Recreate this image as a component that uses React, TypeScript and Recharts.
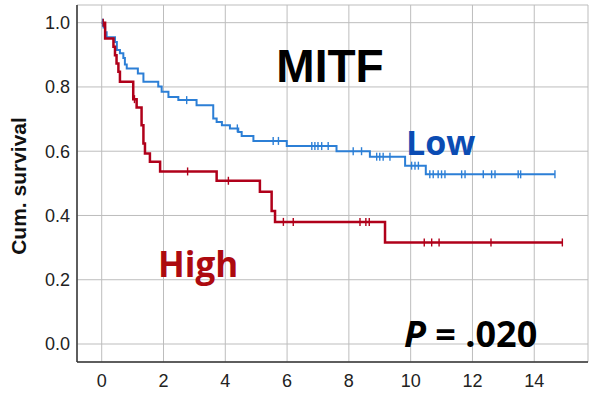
import React from 'react';
import { LineChart, Line, XAxis, YAxis, CartesianGrid } from 'recharts';

// Kaplan-Meier step events (time in years, cumulative survival after the event)
const highEventT = [0, 0.11, 0.38, 0.43, 0.48, 0.54, 0.59, 1.02, 1.13, 1.29, 1.35, 1.4, 1.56, 1.89, 3.72, 5.12, 5.5, 5.61, 9.17];
const highEventS = [1.0, 0.951, 0.925, 0.899, 0.873, 0.847, 0.816, 0.762, 0.736, 0.681, 0.624, 0.593, 0.567, 0.537, 0.508, 0.474, 0.414, 0.38, 0.316];
const highCensorT = [0.05, 1.06, 2.78, 4.1, 5.88, 6.2, 8.36, 8.55, 8.66, 10.44, 10.68, 10.92, 12.6, 14.91];

const lowEventT = [0, 0.06, 0.11, 0.16, 0.43, 0.49, 0.59, 0.7, 0.75, 0.81, 1.17, 1.35, 1.83, 1.94, 2.16, 2.48, 3.07, 3.61, 3.72, 3.89, 4.15, 4.42, 4.53, 4.91, 5.99, 7.6, 8.68, 9.82, 10.49];
const lowEventS = [1.0, 0.985, 0.97, 0.955, 0.94, 0.915, 0.905, 0.89, 0.87, 0.857, 0.842, 0.816, 0.801, 0.785, 0.769, 0.759, 0.743, 0.702, 0.691, 0.681, 0.671, 0.66, 0.647, 0.632, 0.616, 0.6, 0.583, 0.555, 0.528];
const lowCensorT = [0.03, 2.75, 4.39, 5.55, 5.72, 6.8, 6.9, 7.0, 7.12, 7.33, 8.14, 8.41, 8.9, 9.0, 9.11, 9.33, 10.03, 10.14, 10.25, 10.62, 10.73, 10.89, 11.0, 11.11, 11.65, 11.76, 12.35, 12.62, 12.73, 13.48, 13.56, 14.67];

const xTicks = [0, 2, 4, 6, 8, 10, 12, 14];
const yTicks = [0, 0.2, 0.4, 0.6, 0.8, 1.0];

type Pt = { t: number; s: number; c: boolean };

function buildKM(eventT: number[], eventS: number[], censorT: number[]): Pt[] {
  const pts: Pt[] = eventT.map((t, i) => ({ t, s: eventS[i], c: false }));
  censorT.forEach((t) => {
    let s = eventS[0];
    eventT.forEach((et, i) => {
      if (et <= t) s = eventS[i];
    });
    pts.push({ t, s, c: true });
  });
  pts.sort((a, b) => a.t - b.t);
  return pts;
}

const highData = buildKM(highEventT, highEventS, highCensorT);
const lowData = buildKM(lowEventT, lowEventS, lowCensorT);

const RED = '#b0001a';
const BLUE = '#2c7fd6';

const censorDot = (color: string) => (props: any) => {
  const { cx, cy, payload, index } = props;
  if (!payload || !payload.c || cx == null || cy == null) return <g key={`d${index}`} />;
  return <line key={`d${index}`} x1={cx} x2={cx} y1={cy - 4} y2={cy + 4} stroke={color} strokeWidth={1.4} />;
};

export default function App() {
  const font = 'Liberation Sans, Arial, sans-serif';
  return (
    <div style={{ position: 'absolute', left: 0, top: 0, width: 589, height: 396, background: '#fff' }}>
      <LineChart width={589} height={396} margin={{ top: 5, right: 1, left: 0, bottom: 0 }}>
        <CartesianGrid stroke="#bdbdbd" strokeWidth={1} />
        <XAxis
          type="number"
          dataKey="t"
          domain={[-0.8, 15.74]}
          ticks={xTicks}
          allowDataOverflow
          height={34}
          tickLine={false}
          tickSize={0}
          tickMargin={12}
          axisLine={{ stroke: '#333', strokeWidth: 1.5 }}
          tick={{ fill: '#222', fontSize: 18, fontFamily: font }}
        />
        <YAxis
          type="number"
          dataKey="s"
          domain={[-0.056, 1.055]}
          ticks={yTicks}
          allowDataOverflow
          width={77}
          tickLine={false}
          tickSize={0}
          tickMargin={7}
          axisLine={{ stroke: '#333', strokeWidth: 1.5 }}
          tickFormatter={(v: number) => v.toFixed(1)}
          tick={{ fill: '#222', fontSize: 18, fontFamily: font }}
        />
        <Line
          data={lowData}
          dataKey="s"
          type="stepAfter"
          stroke={BLUE}
          strokeWidth={2}
          dot={censorDot(BLUE)}
          activeDot={false}
          isAnimationActive={false}
        />
        <Line
          data={highData}
          dataKey="s"
          type="stepAfter"
          stroke={RED}
          strokeWidth={2.5}
          dot={censorDot(RED)}
          activeDot={false}
          isAnimationActive={false}
        />
      </LineChart>
      <svg width={589} height={396} style={{ position: 'absolute', left: 0, top: 0, pointerEvents: 'none' }}>
        <text x={18} y={186} transform="rotate(-90 18 186)" textAnchor="middle" dominantBaseline="central" fontFamily={font} fontWeight="bold" fontSize={21} fill="#111">
          Cum. survival
        </text>
        <text x={330} y={82} textAnchor="middle" fontFamily={font} fontWeight="bold" fontSize={46} fill="#000">
          MITF
        </text>
        <text x={406} y={155} fontFamily="Open Sans, sans-serif" fontWeight="bold" fontSize={34} fill="#0b4cb3">
          Low
        </text>
        <text x={158} y={277} fontFamily="Open Sans, sans-serif" fontWeight="bold" fontSize={35} fill="#ad0a0f">
          High
        </text>
        <text x={404} y={347} fontFamily="Open Sans, sans-serif" fontWeight="bold" fontSize={36} fill="#000">
          <tspan fontStyle="italic">P</tspan> = .020
        </text>
      </svg>
    </div>
  );
}
